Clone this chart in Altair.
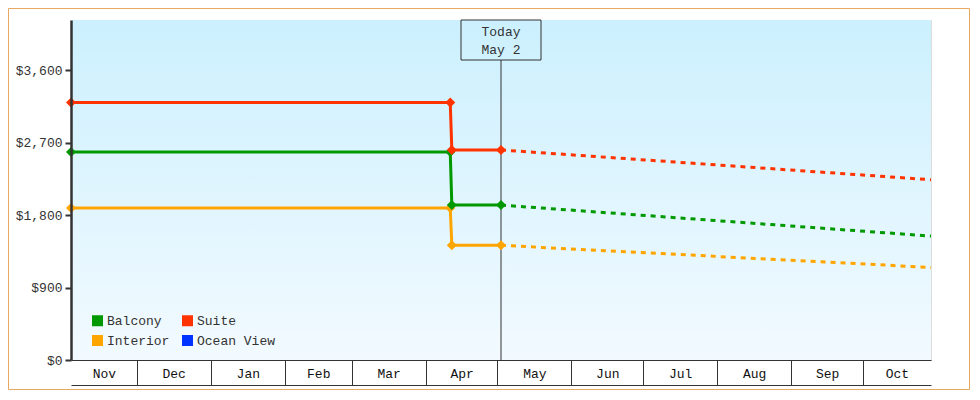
import altair as alt
import pandas as pd

# ---------------- data ----------------
SERIES = ["Interior", "Balcony", "Suite"]
LEGEND_ORDER = ["Balcony", "Suite", "Interior", "Ocean View"]
LEGEND_COLORS = ["#009900", "#ff3300", "#ffa500", "#0033ff"]
LINE_ORDER = ["Balcony", "Suite", "Interior"]
LINE_COLORS = ["#009900", "#ff3300", "#ffa500"]

HIST_DATES = ["2024-11-03T12:00:00", "2025-04-11T06:00:00",
              "2025-04-11T22:00:00", "2025-05-02T12:00:00"]
HIST_INTERIOR = [1890, 1890, 1425, 1425]
HIST_BALCONY = [2585, 2585, 1925, 1925]
HIST_SUITE = [3200, 3200, 2610, 2610]

FC_DATES = ["2025-05-02T12:00:00", "2025-10-29T12:00:00"]
FC_INTERIOR = [1425, 1150]
FC_BALCONY = [1925, 1540]
FC_SUITE = [2610, 2240]

TODAY = "2025-05-02T12:00:00"
TODAY_LABEL = "Today\nMay 2"

X_START = "2024-11-03T12:00:00"
X_END = "2025-10-29T12:00:00"
Y_TICKS = [0, 900, 1800, 2700, 3600]
Y_MAX = 4225

MONTH_STARTS = [(2024, 12, 1), (2025, 1, 1), (2025, 2, 1), (2025, 3, 1),
                (2025, 4, 1), (2025, 5, 1), (2025, 6, 1), (2025, 7, 1),
                (2025, 8, 1), (2025, 9, 1), (2025, 10, 1)]
# centre of each visible month (tick label positions)
MONTH_LABEL_POS = [(2024, 11, 17, 6), (2024, 12, 16, 12), (2025, 1, 16, 12),
                   (2025, 2, 15, 0), (2025, 3, 16, 12), (2025, 4, 16, 0),
                   (2025, 5, 16, 12), (2025, 6, 16, 0), (2025, 7, 16, 12),
                   (2025, 8, 16, 12), (2025, 9, 16, 0), (2025, 10, 15, 6)]

FONT = "Liberation Mono"
INK = "#333333"

# ---------------- tables ----------------
hist_vals = {"Interior": HIST_INTERIOR, "Balcony": HIST_BALCONY, "Suite": HIST_SUITE}
fc_vals = {"Interior": FC_INTERIOR, "Balcony": FC_BALCONY, "Suite": FC_SUITE}

hist = pd.DataFrame([
    {"date": d, "price": v, "cabin": s}
    for s in SERIES for d, v in zip(HIST_DATES, hist_vals[s])
])
fc = pd.DataFrame([
    {"date": d, "price": v, "cabin": s}
    for s in SERIES for d, v in zip(FC_DATES, fc_vals[s])
])
bg = pd.DataFrame([{"start": X_START, "end": X_END, "top": Y_MAX, "bottom": 0}])
today = pd.DataFrame([{"date": TODAY, "label": TODAY_LABEL}])

x_scale = alt.Scale(domain=[X_START, X_END], nice=False)
y_scale = alt.Scale(domain=[0, Y_MAX], nice=False, zero=False)

boundary_axis = alt.Axis(
    orient="bottom", zindex=1,
    values=[alt.DateTime(year=y, month=m, date=d) for y, m, d in MONTH_STARTS],
    labels=False, grid=False, title=None,
    tickSize=25, tickColor=INK, tickWidth=1,
    domainColor=INK, domainWidth=1,
)
label_axis = alt.Axis(
    orient="bottom", offset=25, zindex=1,
    values=[alt.DateTime(year=y, month=m, date=d, hours=h) for y, m, d, h in MONTH_LABEL_POS],
    format="%b", ticks=False, grid=False, title=None,
    domainColor=INK, domainWidth=1,
    labelPadding=-12, labelBaseline="middle", labelAlign="center",
    labelFont=FONT, labelFontSize=13, labelColor="#111111",
)
y_axis = alt.Axis(
    values=Y_TICKS, format="$,.0f", grid=False, title=None, zindex=1,
    domainColor=INK, domainWidth=2.5,
    tickColor=INK, tickWidth=2, tickSize=6,
    labelFont=FONT, labelFontSize=13, labelColor=INK, labelPadding=3,
)
fill_scale = alt.Scale(domain=LEGEND_ORDER, range=LEGEND_COLORS)
stroke_scale = alt.Scale(domain=LINE_ORDER, range=LINE_COLORS)

gradient = alt.LinearGradient(
    gradient="linear", x1=0, y1=0, x2=0, y2=1,
    stops=[alt.GradientStop(color="#ccf0fe", offset=0),
           alt.GradientStop(color="#f2faff", offset=1)],
)

background = alt.Chart(bg).mark_rect(fill=gradient).encode(
    x=alt.X("start:T", scale=x_scale, axis=None),
    x2="end:T",
    y=alt.Y("top:Q", scale=y_scale, axis=y_axis),
    y2="bottom:Q",
)

rule = alt.Chart(today).mark_rule(color=INK, strokeWidth=1).encode(
    x=alt.X("date:T", scale=x_scale, axis=label_axis),
    y=alt.value(40),
    y2=alt.value(340),
)
box = alt.Chart(today).mark_rect(width=80, fillOpacity=0, stroke=INK, strokeWidth=1).encode(
    x=alt.X("date:T", scale=x_scale, axis=None),
    y=alt.value(0),
    y2=alt.value(40),
)
label = alt.Chart(today).mark_text(
    lineBreak="\n", lineHeight=18, baseline="middle", align="center",
    font=FONT, fontSize=13, color=INK,
).encode(
    x=alt.X("date:T", scale=x_scale, axis=None),
    y=alt.value(12),
    text="label:N",
)

hist_lines = alt.Chart(hist).mark_line(strokeWidth=3).encode(
    x=alt.X("date:T", scale=x_scale, axis=boundary_axis),
    y=alt.Y("price:Q", scale=y_scale, axis=y_axis),
    stroke=alt.Stroke("cabin:N", scale=stroke_scale, legend=None),
    detail="cabin:N",
)
fc_lines = alt.Chart(fc).mark_line(strokeWidth=3, strokeDash=[5, 5]).encode(
    x=alt.X("date:T", scale=x_scale, axis=None),
    y=alt.Y("price:Q", scale=y_scale, axis=y_axis),
    stroke=alt.Stroke("cabin:N", scale=stroke_scale, legend=None),
    detail="cabin:N",
)
points = alt.Chart(hist).mark_point(filled=True, shape="diamond", size=100, opacity=1).encode(
    x=alt.X("date:T", scale=x_scale, axis=None),
    y=alt.Y("price:Q", scale=y_scale, axis=y_axis),
    fill=alt.Fill(
        "cabin:N", scale=fill_scale,
        legend=alt.Legend(
            title=None, orient="none", legendX=20, legendY=294,
            direction="horizontal", columns=2,
            symbolType="square", symbolSize=121, symbolStrokeWidth=0,
            labelFont=FONT, labelFontSize=13, labelColor=INK, labelOffset=3,
            columnPadding=11, rowPadding=6, padding=0,
        ),
    ),
)

frame = alt.Chart(today).mark_rect(fillOpacity=0, stroke="#e8a860", strokeWidth=1).encode(
    x=alt.value(-62.5), x2=alt.value(898.5),
    y=alt.value(-11.5), y2=alt.value(369.5),
)

chart = alt.layer(
    background, rule, box, label, hist_lines, fc_lines, points, frame
).resolve_scale(x="shared").resolve_axis(x="independent").properties(
    width=860, height=340,
    autosize=alt.AutoSizeParams(type="none"),
    padding={"left": 63, "top": 12, "right": 39, "bottom": 30},
).configure_view(stroke=None).configure(background="white")

chart.save("out.html", embed_options={"renderer": "svg", "actions": False})
